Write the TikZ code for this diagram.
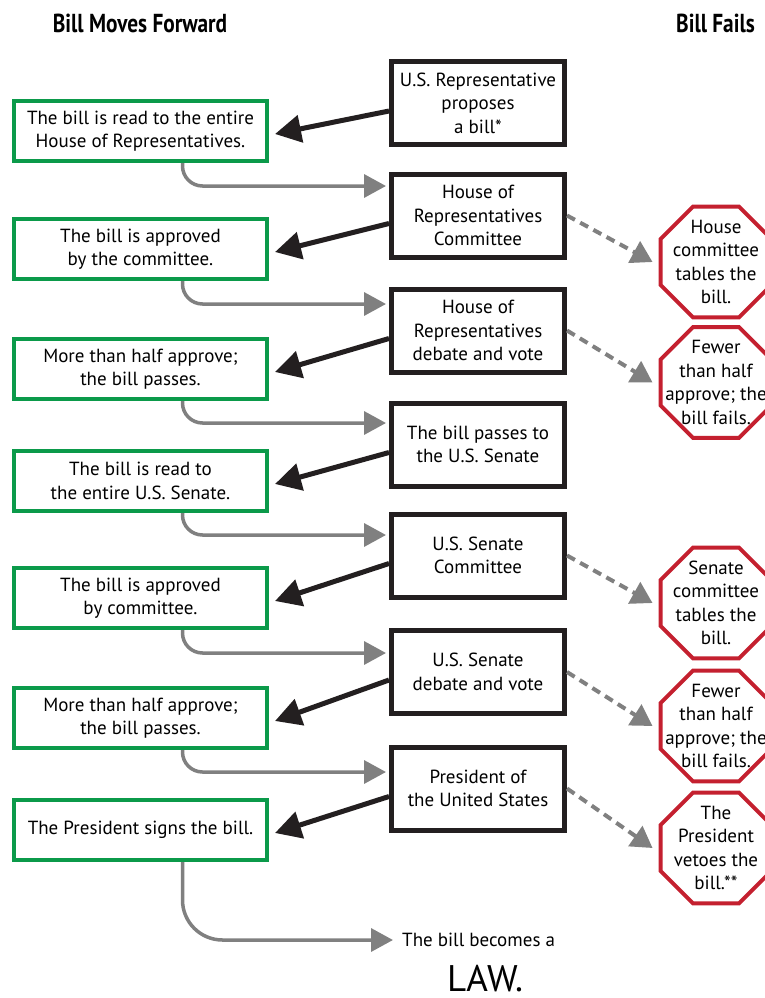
\documentclass[tikz,border=0pt]{standalone}
\usepackage{fontspec}
\setmainfont{PT Sans}
\newfontfamily\headfont[FakeStretch=0.82]{PT Sans}
\newfontfamily\lawfont{PT Sans}
\usepackage{tikz}
\usetikzlibrary{shapes.geometric, arrows.meta, positioning, calc}
\definecolor{passgreen}{HTML}{0B9A4A}
\definecolor{failred}{HTML}{C4202F}
\definecolor{inkblack}{HTML}{231F20}
\definecolor{flowgray}{HTML}{808080}

\begin{document}
\begin{tikzpicture}[
  x=1pt, y=-1pt,
  txt/.style={align=center, font=\fontsize{19}{23.5}\selectfont},
  pass/.style={txt, draw=passgreen, line width=4pt, fill=white, minimum width=253pt, minimum height=60pt, inner sep=2pt},
  stage/.style={txt, draw=inkblack, line width=5pt, fill=white, minimum width=173pt, minimum height=83pt, inner sep=2pt},
  fail/.style={regular polygon, regular polygon sides=8, draw=failred, line width=4pt, fill=white, minimum size=120pt, inner sep=0pt},
  head/.style={font=\headfont\bfseries\fontsize{26}{30}\selectfont},
  push/.style={-{Triangle[length=26pt,width=27pt]}, inkblack, line width=5pt},
  flow/.style={-{Triangle[length=22pt,width=23pt]}, flowgray, line width=3.5pt},
  dropped/.style={-{Triangle[length=21pt,width=24pt]}, flowgray, line width=4pt, dash pattern=on 9pt off 6pt}
]
\useasboundingbox (0,0) rectangle (764,998);

\node[head] (fwd) at (140,23) {Bill Moves Forward};
\node[head] (fails) at (715.5,23) {Bill Fails};

% middle column: where the bill goes
\node[stage] (b1) at (478,103) {U.S. Representative\\proposes\\a bill*};
\node[stage] (b2) at (478,215.5) {House of\\Representatives\\Committee};
\node[stage] (b3) at (478,330.5) {House of\\Representatives\\debate and vote};
\node[stage] (b4) at (478,444.5) {The bill passes to\\the U.S. Senate};
\node[stage] (b5) at (478,555.5) {U.S. Senate\\Committee};
\node[stage] (b6) at (478,672) {U.S. Senate\\debate and vote};
\node[stage] (b7) at (478,788.5) {President of\\the United States};

% left column: bill moves forward
\node[pass] (g1) at (140.5,131) {The bill is read to the entire\\House of Representatives.};
\node[pass] (g2) at (140.5,249) {The bill is approved\\by the committee.};
\node[pass] (g3) at (140.5,369) {More than half approve;\\the bill passes.};
\node[pass] (g4) at (140.5,481) {The bill is read to\\the entire U.S. Senate.};
\node[pass] (g5) at (140.5,598) {The bill is approved\\by committee.};
\node[pass] (g6) at (140.5,718) {More than half approve;\\the bill passes.};
\node[pass] (g7) at (140.5,830) {The President signs the bill.};

% right column: bill fails
\node[fail, label={[txt]center:House\\committee\\tables the\\bill.}] (o1) at (716,262) {};
\node[fail, label={[txt]center:Fewer\\than half\\approve; the\\bill fails.}] (o2) at (716,382.5) {};
\node[fail, label={[txt]center:Senate\\committee\\tables the\\bill.}] (o3) at (716,603) {};
\node[fail, label={[txt]center:Fewer\\than half\\approve; the\\bill fails.}] (o4) at (716,726) {};
\node[fail, label={[txt]center:The\\President\\vetoes the\\bill.**}] (o5) at (716,848) {};

\node[txt, anchor=west, inner sep=0pt] (law1) at (402,940) {The bill becomes a};
\node[font=\lawfont\fontsize{37}{40}\selectfont, inner sep=0pt] (law2) at (485,979) {LAW.};

\draw[push] ([yshift=-8pt]b1.west) -- ([xshift=6pt,yshift=-3pt]g1.east);
\draw[push] ([yshift=-8pt]b2.west) -- ([xshift=6pt,yshift=-3pt]g2.east);
\draw[push] ([yshift=-8pt]b3.west) -- ([xshift=6pt,yshift=-3pt]g3.east);
\draw[push] ([yshift=-8pt]b4.west) -- ([xshift=6pt,yshift=-3pt]g4.east);
\draw[push] ([yshift=-8pt]b5.west) -- ([xshift=6pt,yshift=-3pt]g5.east);
\draw[push] ([yshift=-8pt]b6.west) -- ([xshift=6pt,yshift=-3pt]g6.east);
\draw[push] ([yshift=-8pt]b7.west) -- ([xshift=6pt,yshift=-3pt]g7.east);

\draw[flow, rounded corners=20pt] ([xshift=42pt]g1.south) |- ($(g1.south -| b2.west)+(-3,23)$);
\draw[flow, rounded corners=20pt] ([xshift=42pt]g2.south) |- ($(g2.south -| b3.west)+(-3,23)$);
\draw[flow, rounded corners=20pt] ([xshift=42pt]g3.south) |- ($(g3.south -| b4.west)+(-3,22)$);
\draw[flow, rounded corners=20pt] ([xshift=42pt]g4.south) |- ($(g4.south -| b5.west)+(-3,22)$);
\draw[flow, rounded corners=20pt] ([xshift=42pt]g5.south) |- ($(g5.south -| b6.west)+(-3,23)$);
\draw[flow, rounded corners=20pt] ([xshift=42pt]g6.south) |- ($(g6.south -| b7.west)+(-3,22)$);
\draw[flow, rounded corners=40pt, shorten >=9pt] ([xshift=42pt]g7.south) |- (law1.west);

\draw[dropped] (b2.east) -- ([xshift=-6pt]o1.west);
\draw[dropped] (b3.east) -- ([xshift=-6pt]o2.west);
\draw[dropped] (b5.east) -- ([xshift=-6pt]o3.west);
\draw[dropped] (b6.east) -- ([xshift=-6pt]o4.west);
\draw[dropped] (b7.east) -- ([xshift=-6pt]o5.west);
\end{tikzpicture}
\end{document}
